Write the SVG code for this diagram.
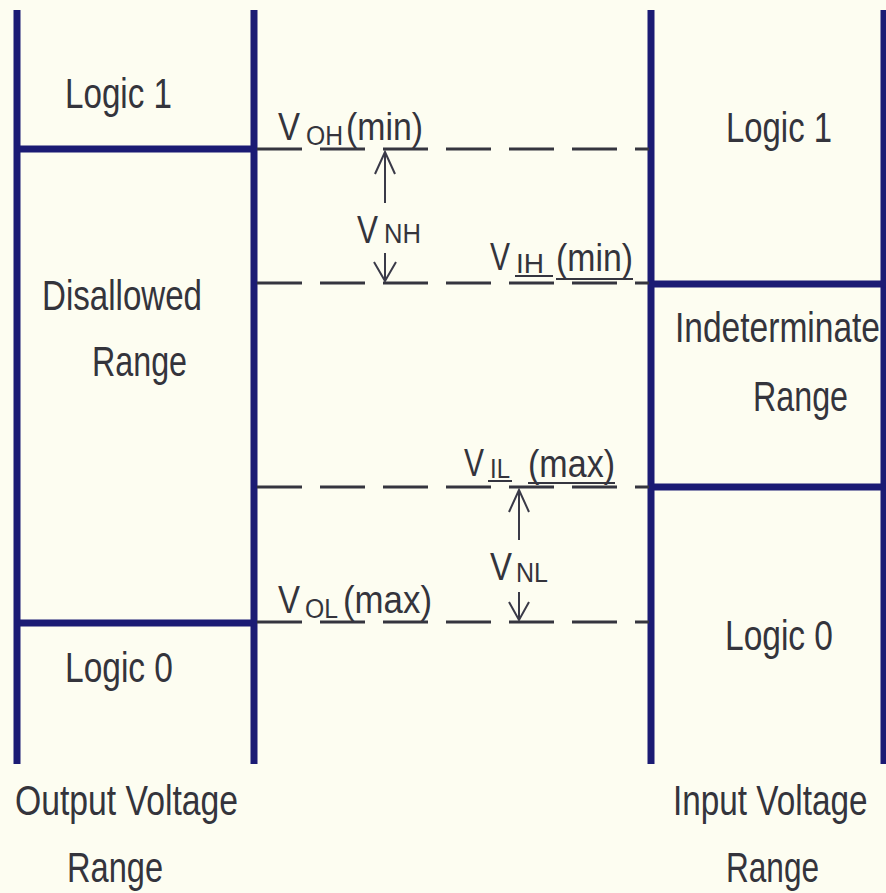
<svg xmlns="http://www.w3.org/2000/svg" width="886" height="893" viewBox="0 0 886 893">
<defs>
<style>
.bar{stroke:#1b1b74;stroke-width:7;fill:none;stroke-linecap:butt}
.dash{stroke:#35353f;stroke-width:3;fill:none;stroke-dasharray:45 18}
.arr{stroke:#3a3a48;stroke-width:2;fill:none}
.ul{stroke:#35353f;stroke-width:2}
text{font-family:"Liberation Sans",Arial,sans-serif;fill:#34343c}
.big{font-size:43px}
.v{font-size:38px}
.sub{font-size:27px}
</style>
</defs>
<rect width="886" height="893" fill="#fdfdf1"/>
<g id="scales">
<line class="bar" x1="17" y1="10" x2="17" y2="764"/>
<line class="bar" x1="254" y1="10" x2="254" y2="764"/>
<line class="bar" x1="651" y1="10" x2="651" y2="764"/>
<line class="bar" x1="884" y1="10" x2="884" y2="764"/>
<line class="bar" x1="17" y1="149" x2="254" y2="149"/>
<line class="bar" x1="17" y1="623" x2="254" y2="623"/>
<line class="bar" x1="651" y1="284" x2="886" y2="284"/>
<line class="bar" x1="651" y1="487" x2="886" y2="487"/>
</g>
<g id="connectors">
<line class="dash" x1="257" y1="149" x2="649" y2="149"/>
<line class="dash" x1="257" y1="283" x2="649" y2="283"/>
<line class="dash" x1="257" y1="487" x2="649" y2="487"/>
<line class="dash" x1="257" y1="622" x2="649" y2="622"/>
<line class="arr" x1="385" y1="203" x2="385" y2="152"/>
<polyline class="arr" points="375,174 385,152 395,174"/>
<line class="arr" x1="385" y1="253" x2="385" y2="281"/>
<polyline class="arr" points="374,262 385,281 396,262"/>
<line class="arr" x1="519" y1="540" x2="519" y2="490"/>
<polyline class="arr" points="509,512 519,490 529,512"/>
<line class="arr" x1="519" y1="592" x2="519" y2="620"/>
<polyline class="arr" points="509,602 519,620 529,602"/>
</g>
<g id="out-logic1"><text class="big" x="65" y="108" textLength="107" lengthAdjust="spacingAndGlyphs">Logic 1</text></g>
<g id="out-disallowed">
<text class="big" x="42" y="310" textLength="160" lengthAdjust="spacingAndGlyphs">Disallowed</text>
<text class="big" x="92" y="376" textLength="95" lengthAdjust="spacingAndGlyphs">Range</text>
</g>
<g id="out-logic0"><text class="big" x="65" y="682" textLength="108" lengthAdjust="spacingAndGlyphs">Logic 0</text></g>
<g id="out-caption">
<text class="big" x="15" y="815" textLength="223" lengthAdjust="spacingAndGlyphs">Output Voltage</text>
<text class="big" x="67" y="882" textLength="96" lengthAdjust="spacingAndGlyphs">Range</text>
</g>
<g id="in-logic1"><text class="big" x="726" y="142" textLength="106" lengthAdjust="spacingAndGlyphs">Logic 1</text></g>
<g id="in-indeterminate">
<text class="big" transform="translate(675 342) scale(0.78 1)">Indeterminate</text>
<text class="big" x="753" y="411" textLength="95" lengthAdjust="spacingAndGlyphs">Range</text>
</g>
<g id="in-logic0"><text class="big" x="725" y="650" textLength="108" lengthAdjust="spacingAndGlyphs">Logic 0</text></g>
<g id="in-caption">
<text class="big" transform="translate(673 815) scale(0.775 1)">Input Voltage</text>
<text class="big" x="726" y="882" textLength="93" lengthAdjust="spacingAndGlyphs">Range</text>
</g>
<g id="voh">
<text class="v" x="278" y="140" textLength="22" lengthAdjust="spacingAndGlyphs">V</text>
<text class="sub" x="306" y="145" textLength="37" lengthAdjust="spacingAndGlyphs">OH</text>
<text class="v" x="346" y="140" textLength="77" lengthAdjust="spacingAndGlyphs">(min)</text>
</g>
<g id="vnh">
<text class="v" x="357" y="243" textLength="21" lengthAdjust="spacingAndGlyphs">V</text>
<text class="sub" x="384" y="243" textLength="37" lengthAdjust="spacingAndGlyphs">NH</text>
</g>
<g id="vih">
<text class="v" x="490" y="270" textLength="20" lengthAdjust="spacingAndGlyphs">V</text>
<text class="sub" x="516" y="273" textLength="28" lengthAdjust="spacingAndGlyphs">IH</text>
<line class="ul" x1="515" y1="276" x2="553" y2="276"/>
<text class="v" x="556" y="271" textLength="77" lengthAdjust="spacingAndGlyphs">(min)</text>
<line class="ul" x1="556" y1="279" x2="633" y2="279"/>
</g>
<g id="vil">
<text class="v" x="464" y="476" textLength="20" lengthAdjust="spacingAndGlyphs">V</text>
<text class="sub" x="490" y="478" textLength="20" lengthAdjust="spacingAndGlyphs">IL</text>
<line class="ul" x1="488" y1="481" x2="512" y2="481"/>
<text class="v" x="528" y="477" textLength="87" lengthAdjust="spacingAndGlyphs">(max)</text>
<line class="ul" x1="528" y1="483" x2="615" y2="483"/>
</g>
<g id="vnl">
<text class="v" x="490" y="580" textLength="22" lengthAdjust="spacingAndGlyphs">V</text>
<text class="sub" x="516" y="582" textLength="32" lengthAdjust="spacingAndGlyphs">NL</text>
</g>
<g id="vol">
<text class="v" x="278" y="613" textLength="22" lengthAdjust="spacingAndGlyphs">V</text>
<text class="sub" x="305" y="618" textLength="33" lengthAdjust="spacingAndGlyphs">OL</text>
<text class="v" x="343" y="613" textLength="89" lengthAdjust="spacingAndGlyphs">(max)</text>
</g>
</svg>
